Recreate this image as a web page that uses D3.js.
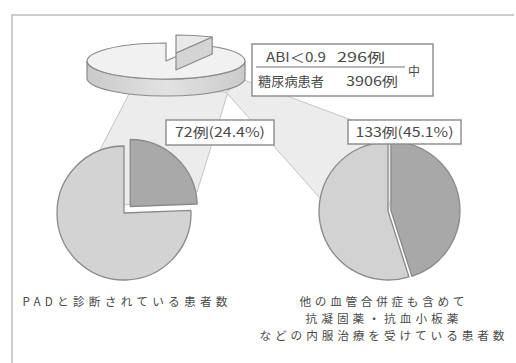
<!DOCTYPE html>
<html>
<head>
<meta charset="utf-8">
<script src="https://cdn.jsdelivr.net/npm/d3@7"></script>
<style>
  html, body { margin: 0; padding: 0; background: #fff; }
  svg { display: block; }
  text { font-family: "Noto Sans CJK JP", "Noto Sans", sans-serif; fill: #4a4a4a; }
</style>
</head>
<body>
<svg id="chart" width="516" height="363"></svg>
<script>
// ---- data ----
const totalLabel = "糖尿病患者";
const totalCount = 3906;
const abiLabel = "ABI＜0.9";
const abiCount = 296;
const subsetCounts = [72, 133];
const subsetPercents = [24.4, 45.1];
const subsetTitles = [
  ["PADと診断されている患者数"],
  ["他の血管合併症も含めて", "抗凝固薬・抗血小板薬", "などの内服治療を受けている患者数"]
];
const unit = "例";

// ---- layout ----
const svg = d3.select("#chart");
const edge = "#8a8a8a";

// frame
svg.append("path")
  .attr("d", "M12,363 L12,15 L514,15")
  .attr("fill", "none").attr("stroke", "#bdbdbd").attr("stroke-width", 1.5);

// connector fans (behind everything else)
const fans = [
  [[130, 92], [228, 92], [197, 192], [124, 205], [87, 175]],
  [[226, 92], [244, 80], [405, 140], [388, 211], [326, 205]]
];
svg.append("g").selectAll("path").data(fans).join("path")
  .attr("d", d => d3.line()(d) + "Z")
  .attr("fill", "#ececec").attr("stroke", "#c4c4c4").attr("stroke-width", 1);

// ---- 3D pie of all diabetic patients ----
const top3d = { cx: 166, cy: 61, rx: 79, ry: 18, depth: 17, lift: [10, -8] };
const topPie = d3.pie().sort(null).value(d => d)([abiCount, totalCount - abiCount]);
const proj = (a, dx = 0, dy = 0) =>
  [top3d.cx + top3d.rx * Math.sin(a) + dx, top3d.cy - top3d.ry * Math.cos(a) + dy];
const pt = p => p[0].toFixed(2) + "," + p[1].toFixed(2);
const arcTo = (p, large, sweep) =>
  `A${top3d.rx},${top3d.ry} 0 ${large} ${sweep} ${pt(p)}`;

const defs = svg.append("defs");
const sideGrad = defs.append("linearGradient").attr("id", "side");
sideGrad.append("stop").attr("offset", "0").attr("stop-color", "#c9c9c9");
sideGrad.append("stop").attr("offset", "0.5").attr("stop-color", "#e2e2e2");
sideGrad.append("stop").attr("offset", "1").attr("stop-color", "#cbcbcb");

const g3 = svg.append("g");
const rest = topPie[1];
// visible front wall of the remaining body
const s0 = Math.max(rest.startAngle, Math.PI / 2), s1 = Math.min(rest.endAngle, 1.5 * Math.PI);
g3.append("path")
  .attr("d", `M${pt(proj(s0))} ${arcTo(proj(s1), 0, 1)} L${pt(proj(s1, 0, top3d.depth))} ${arcTo(proj(s0, 0, top3d.depth), 0, 0)} Z`)
  .attr("fill", "url(#side)").attr("stroke", edge).attr("stroke-width", 1.2);
// top face of the remaining body
g3.append("path")
  .attr("d", `M${pt([top3d.cx, top3d.cy])} L${pt(proj(rest.startAngle))} ${arcTo(proj(rest.endAngle), rest.endAngle - rest.startAngle > Math.PI ? 1 : 0, 1)} Z`)
  .attr("fill", "#f1f1f1").attr("stroke", edge).attr("stroke-width", 1.2).attr("stroke-linejoin", "round");

// lifted wedge for ABI < 0.9
const wedge = topPie[0];
const [lx, ly] = top3d.lift;
const wc = [top3d.cx + lx, top3d.cy + ly];
g3.append("path")
  .attr("d", `M${pt(wc)} L${pt(proj(wedge.endAngle, lx, ly))} L${pt(proj(wedge.endAngle, lx, ly + top3d.depth))} L${pt([wc[0], wc[1] + top3d.depth])} Z`)
  .attr("fill", "#d4d4d4").attr("stroke", edge).attr("stroke-width", 1.2).attr("stroke-linejoin", "round");
g3.append("path")
  .attr("d", `M${pt(wc)} L${pt(proj(wedge.startAngle, lx, ly))} ${arcTo(proj(wedge.endAngle, lx, ly), 0, 1)} Z`)
  .attr("fill", "#e9e9e9").attr("stroke", edge).attr("stroke-width", 1.2).attr("stroke-linejoin", "round");

// ---- ratio box: ABI<0.9 296例 / 糖尿病患者 3906例 中 ----
const boxA = svg.append("g");
boxA.append("rect").attr("x", 252).attr("y", 44).attr("width", 181).attr("height", 52)
  .attr("fill", "#fff").attr("stroke", edge).attr("stroke-width", 1.4);
boxA.append("line").attr("x1", 256).attr("x2", 405).attr("y1", 67).attr("y2", 67)
  .attr("stroke", "#777").attr("stroke-width", 1.2);
const boxRows = [
  { t: abiLabel, x: 266, y: 62, w: 60 },
  { t: abiCount + unit, x: 337, y: 62, w: 48 },
  { t: totalLabel, x: 258, y: 86, w: 66 },
  { t: totalCount + unit, x: 346, y: 86, w: 52 }
];
boxA.selectAll("text").data(boxRows).join("text")
  .attr("x", d => d.x).attr("y", d => d.y)
  .attr("textLength", d => d.w).attr("lengthAdjust", "spacingAndGlyphs")
  .attr("font-size", 13).text(d => d.t);
boxA.append("text").attr("x", 414).attr("y", 76).attr("text-anchor", "middle")
  .attr("font-size", 12).text("中");

// ---- the two split pies ----
const pies = [
  { cx: 124, cy: 213, r: 67, pull: 9, light: "#d3d3d3", dark: "#a9a9a9" },
  { cx: 388, cy: 211, r: 69, pull: 3, light: "#d2d2d2", dark: "#a8a8a8" }
];
const pieGen = d3.pie().sort(null).value(d => d);
pies.forEach((p, i) => {
  const arcs = pieGen([subsetPercents[i], 100 - subsetPercents[i]]);
  const arcGen = d3.arc().innerRadius(0).outerRadius(p.r);
  const g = svg.append("g").attr("transform", `translate(${p.cx},${p.cy})`);
  g.selectAll("path").data(arcs).join("path")
    .attr("transform", (d, k) => {
      if (k !== 0) return null;
      const m = (d.startAngle + d.endAngle) / 2;
      return `translate(${p.pull * Math.sin(m)},${-p.pull * Math.cos(m)})`;
    })
    .attr("d", arcGen)
    .attr("fill", (d, k) => k === 0 ? p.dark : p.light)
    .attr("stroke", edge).attr("stroke-width", 1.3).attr("stroke-linejoin", "round");
});

// ---- count labels ----
const countBoxes = [
  { x: 166, y: 120, w: 108, h: 25, tw: 90 },
  { x: 348, y: 120, w: 113, h: 24, tw: 98 }
];
countBoxes.forEach((b, i) => {
  svg.append("rect").attr("x", b.x).attr("y", b.y).attr("width", b.w).attr("height", b.h)
    .attr("fill", "#fff").attr("stroke", edge).attr("stroke-width", 1.4);
  svg.append("text").attr("x", b.x + b.w / 2).attr("y", b.y + b.h / 2 + 4.5)
    .attr("text-anchor", "middle").attr("font-size", 13)
    .attr("textLength", b.tw).attr("lengthAdjust", "spacingAndGlyphs")
    .text(`${subsetCounts[i]}${unit}(${subsetPercents[i]}%)`);
});

// ---- captions ----
const captionPos = [
  { x: 125, y: 306, w: [205] },
  { x: 382, y: 305.5, w: [165, 153, 245] }
];
captionPos.forEach((c, i) => {
  svg.append("g").selectAll("text").data(subsetTitles[i]).join("text")
    .attr("x", c.x).attr("y", (d, k) => c.y + k * 17.1)
    .attr("text-anchor", "middle").attr("font-size", 11.7)
    .attr("textLength", (d, k) => c.w[k])
    .text(d => d);
});
</script>
</body>
</html>
